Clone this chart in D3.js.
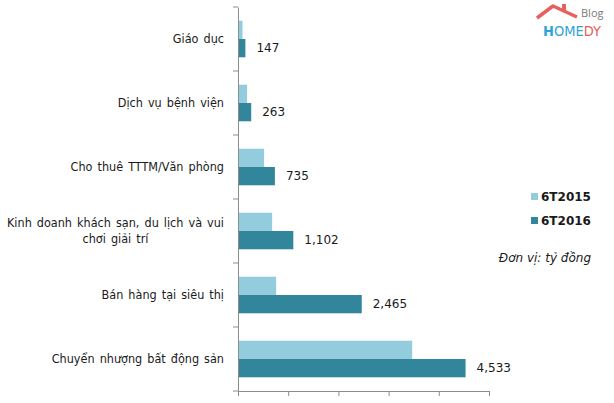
<!DOCTYPE html>
<html>
<head>
<meta charset="utf-8">
<script src="https://cdn.jsdelivr.net/npm/d3@7"></script>
<style>
  body { margin: 0; background: #fff; }
  svg { display: block; font-family: 'DejaVu Sans', Verdana, sans-serif; }
</style>
</head>
<body>
<svg width="614" height="403" viewBox="0 0 614 403"></svg>
<script>
const categories = [
  'Giáo dục',
  'Dịch vụ bệnh viện',
  'Cho thuê TTTM/Văn phòng',
  'Kinh doanh khách sạn, du lịch và vui chơi giải trí',
  'Bán hàng tại siêu thị',
  'Chuyển nhượng bất động sản'
]
const series = ['6T2015', '6T2016']
const values2015 = [90, 180, 520, 680, 760, 3470]
const values2016 = [147, 263, 735, 1102, 2465, 4533]
const xTicks = [0, 1000, 2000, 3000, 4000, 5000]
const unitLabel = 'Đơn vị: tỷ đồng'

const colors = { '6T2015': '#93cddd', '6T2016': '#31869b' }
const axisColor = '#8c8c8c'

const svg = d3.select('svg')
const plotLeft = 238, plotRight = 489, plotTop = 7, plotBottom = 391

const x = d3.scaleLinear().domain([0, 5000]).range([plotLeft, plotRight])
const y = d3.scaleBand().domain(categories).range([plotTop, plotBottom])
const inner = d3.scaleBand().domain(series).range([0, y.bandwidth()]).paddingOuter(0.75).paddingInner(0)

const rows = categories.map((c, i) => ({ name: c, '6T2015': values2015[i], '6T2016': values2016[i] }))

// bars
const g = svg.append('g')
  .selectAll('g')
  .data(rows)
  .enter()
  .append('g')
  .attr('transform', d => `translate(0,${y(d.name)})`)

g.selectAll('rect')
  .data(d => series.map(s => ({ key: s, value: d[s] })))
  .enter()
  .append('rect')
  .attr('x', x(0))
  .attr('y', d => inner(d.key))
  .attr('width', d => x(d.value) - x(0))
  .attr('height', inner.bandwidth())
  .attr('fill', d => colors[d.key])

// value labels for 2016
g.append('text')
  .attr('x', d => x(d['6T2016']) + 11)
  .attr('y', inner('6T2016') + inner.bandwidth() / 2)
  .attr('dy', '0.35em')
  .attr('font-size', 12)
  .attr('fill', '#1a1a1a')
  .text(d => d3.format(',')(d['6T2016']))

// x axis
const xAxis = svg.append('g')
  .attr('transform', `translate(0,${plotBottom})`)
  .call(d3.axisBottom(x).tickValues(xTicks).tickSize(5).tickFormat(''))
xAxis.select('.domain').attr('stroke', axisColor)
xAxis.selectAll('line').attr('stroke', axisColor)

// y axis with ticks at band boundaries
const yAxis = svg.append('g')
  .attr('transform', `translate(${plotLeft},0)`)
  .call(d3.axisLeft(y).tickSize(0).tickFormat(''))
yAxis.select('.domain').attr('stroke', axisColor)
yAxis.selectAll('.tick').remove()
yAxis.selectAll('line.bound')
  .data(categories.map(c => y(c)).concat([plotBottom]))
  .enter()
  .append('line')
  .attr('class', 'bound')
  .attr('x1', -5).attr('x2', 0)
  .attr('y1', d => d).attr('y2', d => d)
  .attr('stroke', axisColor)

// category labels, wrapped
const labelRight = 224, wrapWidth = 218
svg.append('g')
  .selectAll('text')
  .data(categories)
  .enter()
  .append('text')
  .attr('font-family', "'DejaVu Sans Condensed', 'DejaVu Sans', sans-serif")
  .attr('font-size', 12.5)
  .attr('fill', '#1a1a1a')
  .attr('word-spacing', 1.5)
  .each((d, i, a) => {
    const text = d3.select(a[i])
    const words = d.split(/\s+/)
    let lines = [], line = []
    const probe = text.append('tspan')
    words.forEach(w => {
      line.push(w)
      probe.text(line.join(' '))
      if (probe.node().getComputedTextLength() > wrapWidth && line.length > 1) {
        line.pop()
        lines.push(line.join(' '))
        line = [w]
      }
    })
    lines.push(line.join(' '))
    probe.remove()
    const widths = lines.map(l => {
      const t = text.append('tspan').text(l)
      const w = t.node().getComputedTextLength()
      t.remove()
      return w
    })
    const maxW = d3.max(widths)
    const cx = labelRight - maxW / 2
    const lh = 16
    const y0 = y(d) + y.bandwidth() / 2 - (lines.length - 1) * lh / 2
    text.attr('text-anchor', 'middle')
    lines.forEach((l, k) => {
      text.append('tspan')
        .attr('x', cx)
        .attr('y', y0 + k * lh)
        .attr('dy', '0.35em')
        .text(l)
    })
  })

// legend
const legend = svg.append('g')
  .selectAll('g')
  .data(series)
  .enter()
  .append('g')
  .attr('transform', (d, i) => `translate(531,${193 + i * 24})`)
legend.append('rect')
  .attr('width', 7).attr('height', 7)
  .attr('fill', d => colors[d])
legend.append('text')
  .attr('x', 10).attr('y', 3.5).attr('dy', '0.35em')
  .attr('font-size', 12).attr('font-weight', 'bold')
  .attr('fill', '#1a1a1a')
  .text(d => d)

svg.append('text')
  .attr('x', 591).attr('y', 258).attr('dy', '0.35em')
  .attr('text-anchor', 'end')
  .attr('font-size', 12).attr('font-style', 'italic')
  .attr('fill', '#1a1a1a')
  .text(unitLabel)

// logo
const logo = svg.append('g')
logo.append('path')
  .attr('d', 'M537,18 L553,6 L577,17')
  .attr('fill', 'none').attr('stroke', '#e8605c').attr('stroke-width', 3.5)
  .attr('stroke-linejoin', 'round')
logo.append('rect')
  .attr('x', 562).attr('y', 4).attr('width', 4).attr('height', 7)
  .attr('fill', '#e8605c')
logo.append('text')
  .attr('x', 581).attr('y', 17)
  .attr('font-family', 'Open Sans, sans-serif').attr('font-size', 11)
  .attr('fill', '#7a7a7a')
  .text('Blog')
const brand = logo.append('text')
  .attr('x', 543).attr('y', 36)
  .attr('font-family', "'DejaVu Sans Condensed', sans-serif").attr('font-size', 14.5)
brand.append('tspan').attr('fill', '#2ea5d8').attr('font-weight', 'bold').text('H')
brand.append('tspan').attr('fill', '#2ea5d8').text('OME')
brand.append('tspan').attr('fill', '#e8605c').text('DY')
</script>
</body>
</html>
